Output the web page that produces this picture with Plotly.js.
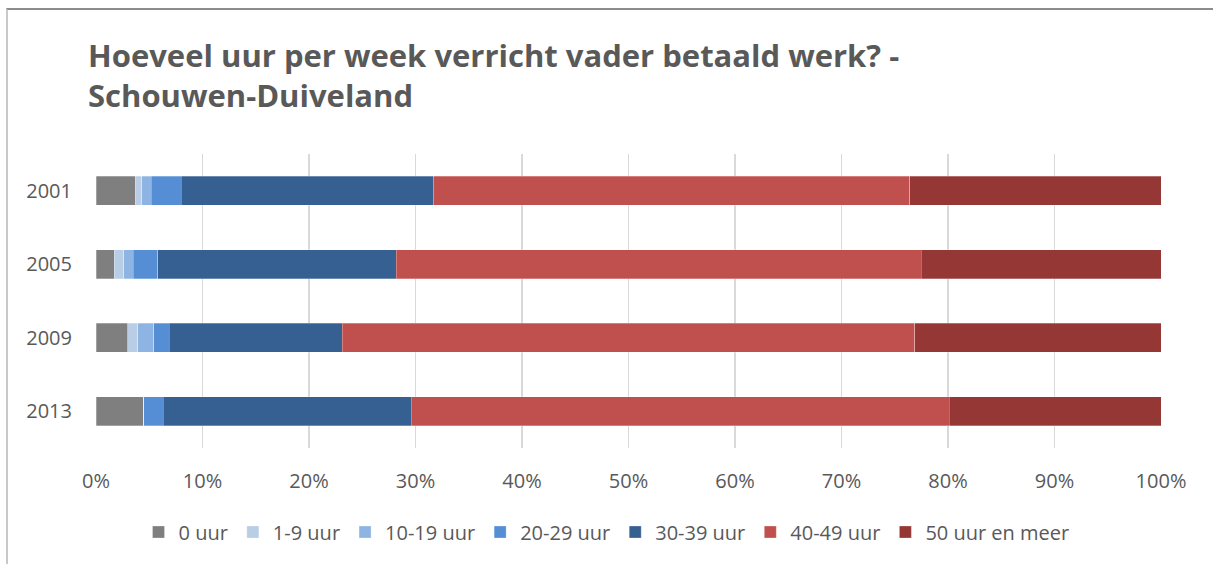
<!DOCTYPE html>
<html>
<head>
<meta charset="utf-8">
<script src="https://cdn.plot.ly/plotly-3.0.1.min.js"></script>
<style>
  html, body { margin: 0; padding: 0; background: #fff; }
  #wrap { position: relative; width: 1213px; height: 564px; }
  #chart { width: 1213px; height: 564px; }
  #frame { position: absolute; left: 6px; top: 8px; width: 1207px; height: 556px;
           border-top: 2px solid #8c8c8c; border-left: 2px solid #c8c8c8; pointer-events: none; box-sizing: border-box; }
</style>
</head>
<body>
<div id="wrap">
  <div id="chart"></div>
  <div id="frame"></div>
</div>
<script>
const years = ["2001", "2005", "2009", "2013"];
const seriesNames = ["0 uur", "1-9 uur", "10-19 uur", "20-29 uur", "30-39 uur", "40-49 uur", "50 uur en meer"];
const v0uur   = [3.7, 1.7, 3.0, 4.5];
const v1_9    = [0.6, 0.9, 0.9, 0.0];
const v10_19  = [0.9, 0.9, 1.5, 0.0];
const v20_29  = [2.8, 2.3, 1.5, 1.8];
const v30_39  = [23.7, 22.4, 16.2, 23.3];
const v40_49  = [44.7, 49.3, 53.8, 50.5];
const v50plus = [23.6, 22.5, 23.1, 19.9];
const colors = ["#7f7f7f", "#b9cde5", "#8eb4e3", "#558ed5", "#376092", "#c0504d", "#953735"];

const allValues = [v0uur, v1_9, v10_19, v20_29, v30_39, v40_49, v50plus];
const font = "'Open Sans', sans-serif";

const traces = allValues.map((vals, i) => ({
  type: "bar",
  orientation: "h",
  name: seriesNames[i],
  y: years,
  x: vals,
  marker: { color: colors[i], line: { color: "rgba(255,255,255,0.35)", width: 0.8 } },
  hoverinfo: "name+x"
}));

const layout = {
  width: 1213,
  height: 564,
  barmode: "stack",
  barnorm: "percent",
  bargap: 0.6,
  paper_bgcolor: "#ffffff",
  plot_bgcolor: "#ffffff",
  margin: { l: 96, r: 52, t: 154, b: 116 },
  title: {
    text: "<b>Hoeveel uur per week verricht vader betaald werk? -<br>Schouwen-Duiveland</b>",
    font: { family: "'Open Sans', sans-serif", size: 31, color: "#595959" },
    x: 88 / 1213, xanchor: "left", xref: "container",
    y: 1 - 67 / 564, yanchor: "top", yref: "container"
  },
  xaxis: {
    range: [0, 100],
    tickvals: [0, 10, 20, 30, 40, 50, 60, 70, 80, 90, 100],
    ticktext: ["0%", "10%", "20%", "30%", "40%", "50%", "60%", "70%", "80%", "90%", "100%"],
    showgrid: true, gridcolor: "#d9d9d9", gridwidth: 1.5,
    zeroline: false, showline: false, ticks: "",
    ticklabelstandoff: 19,
    tickfont: { family: font, size: 20, color: "#595959" },
    fixedrange: true
  },
  yaxis: {
    autorange: "reversed",
    type: "category",
    showgrid: false, zeroline: false, showline: false, ticks: "",
    ticklabelstandoff: 23,
    tickfont: { family: font, size: 20, color: "#595959" },
    fixedrange: true
  },
  legend: {
    orientation: "h",
    x: 0.5, xanchor: "center", xref: "container",
    y: 1 - 532 / 564, yanchor: "middle", yref: "container",
    font: { family: font, size: 20, color: "#595959" },
    traceorder: "normal",
    itemwidth: 30,
    itemclick: false
  },
  showlegend: true
};

Plotly.newPlot("chart", traces, layout, { displayModeBar: false, staticPlot: true });
</script>
</body>
</html>
